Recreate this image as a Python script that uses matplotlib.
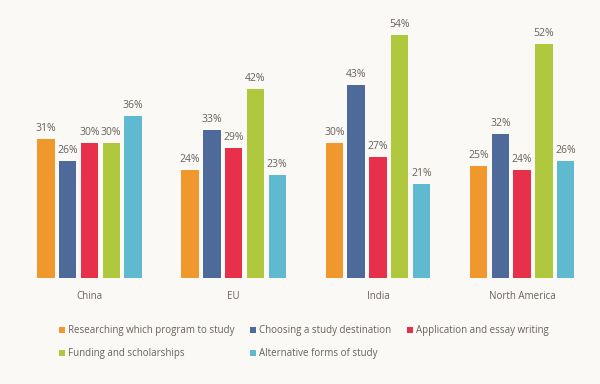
import numpy as np
import matplotlib
matplotlib.use('Agg')
import matplotlib.pyplot as plt

regions = ['China', 'EU', 'India', 'North America']
series = ['Researching which program to study', 'Choosing a study destination',
          'Application and essay writing', 'Funding and scholarships',
          'Alternative forms of study']
values = [
    [31, 24, 30, 25],
    [26, 33, 43, 32],
    [30, 29, 27, 24],
    [30, 42, 54, 52],
    [36, 23, 21, 26],
]
colors = ['#F0982E', '#4D6A9A', '#E8304A', '#AFC83E', '#5FBAD0']

plt.rcParams['font.family'] = ['Open Sans', 'DejaVu Sans']
bg = '#FBF9F6'
txt = '#67615C'

fig = plt.figure(figsize=(6, 3.84), dpi=100, facecolor=bg)
ax = fig.add_axes([0, 0.276, 1, 0.724], facecolor=bg)

x = np.arange(len(regions))
w = 0.12
step = 0.151
bars = []
for i, (name, vals) in enumerate(zip(series, values)):
    b = ax.bar(x + (i - 2) * step, vals, w, color=colors[i], label=name)
    bars.append(b)
    for rect, v in zip(b, vals):
        ax.text(rect.get_x() + rect.get_width() / 2, v + 1.1, '%d%%' % v,
                ha='center', va='bottom', fontsize=7.5, color=txt)

ax.set_xlim(-0.62, 3.54)
ax.set_ylim(0, 61.8)
for s in ax.spines.values():
    s.set_visible(False)
ax.set_yticks([])
ax.set_xticks(x)
ax.set_xticklabels(regions, fontsize=7, color=txt)
ax.tick_params(axis='x', length=0, pad=9)

# reorder so the legend fills rows like the original
order = [0, 3, 1, 4, 2]
fig.legend([bars[k] for k in order], [series[k] for k in order],
           ncol=3, loc='upper left', bbox_to_anchor=(0.098, 0.153),
           frameon=False, fontsize=7, labelcolor=txt,
           handlelength=0.6, handleheight=0.6, handletextpad=0.3,
           columnspacing=1.65, labelspacing=1.25, borderaxespad=0,
           borderpad=0)

fig.savefig('out.png', dpi=100, facecolor=bg)
